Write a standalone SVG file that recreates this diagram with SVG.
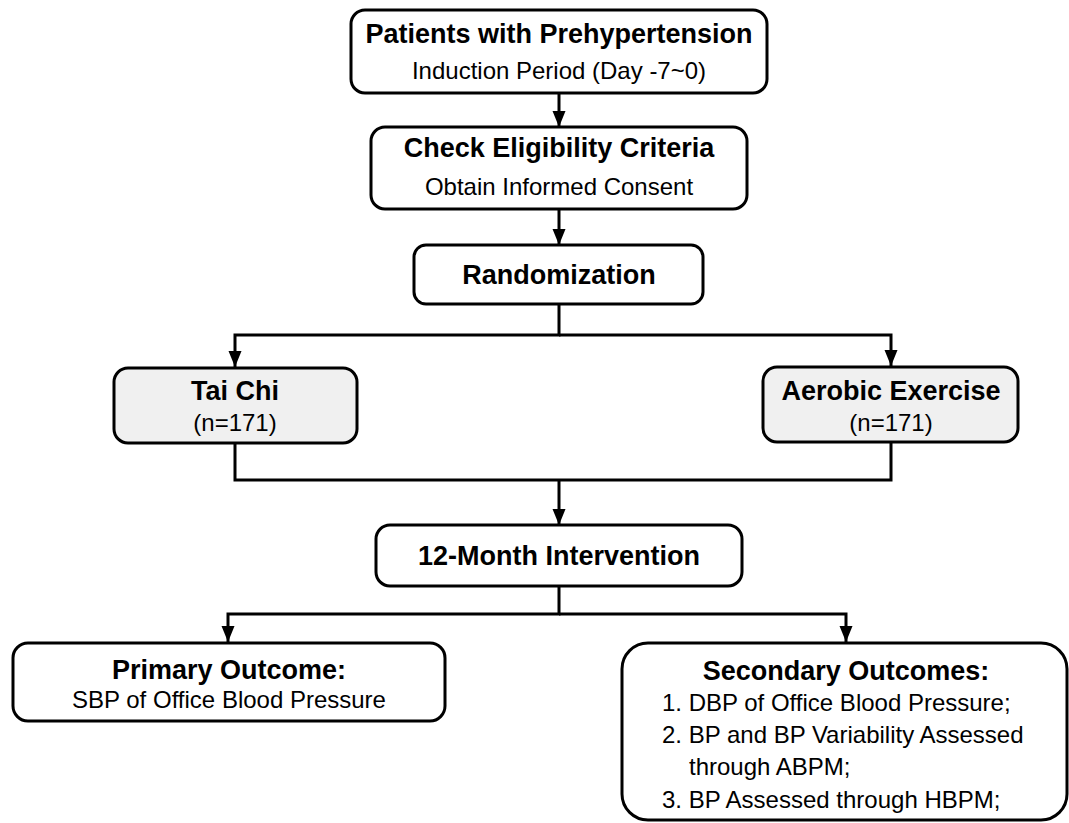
<svg xmlns="http://www.w3.org/2000/svg" width="1069" height="823" viewBox="0 0 1069 823">
<defs>
<marker id="arr" markerUnits="userSpaceOnUse" markerWidth="16" markerHeight="14" viewBox="0 0 16 14" refX="16" refY="6.5" orient="auto">
<path d="M0,0 L16,6.5 L0,13 Z" fill="#000"/>
</marker>
</defs>
<style>
.box{fill:#fff;stroke:#000;stroke-width:3}
.grey{fill:#f0f0f0}
.b{font-family:"Liberation Sans",Arial,sans-serif;font-weight:bold;font-size:27px;fill:#000;text-anchor:middle}
.r{font-family:"Liberation Sans",Arial,sans-serif;font-size:24px;fill:#000;text-anchor:middle}
.l{font-family:"Liberation Sans",Arial,sans-serif;font-size:24px;fill:#000}
.c{fill:none;stroke:#000;stroke-width:3}
</style>
<rect width="1069" height="823" fill="#fff"/>
<g id="connectors">
<path class="c" d="M559,93 V127" marker-end="url(#arr)"/>
<path class="c" d="M559,209 V245" marker-end="url(#arr)"/>
<path class="c" d="M559,304 V335 H235 V367" marker-end="url(#arr)"/>
<path class="c" d="M559,335 H891 V366" marker-end="url(#arr)"/>
<path class="c" d="M235,443 V480 H891 V442"/>
<path class="c" d="M559,480 V525" marker-end="url(#arr)"/>
<path class="c" d="M559,586 V614 H228 V642" marker-end="url(#arr)"/>
<path class="c" d="M559,614 H846 V642" marker-end="url(#arr)"/>
</g>
<g id="n1">
<rect class="box" x="351" y="10" width="416" height="83" rx="14"/>
<text class="b" x="559" y="43">Patients with Prehypertension</text>
<text class="r" x="559" y="79">Induction Period (Day -7~0)</text>
</g>
<g id="n2">
<rect class="box" x="371" y="127" width="376" height="82" rx="14"/>
<text class="b" x="559" y="157">Check Eligibility Criteria</text>
<text class="r" x="559" y="195">Obtain Informed Consent</text>
</g>
<g id="n3">
<rect class="box" x="414" y="245" width="289" height="59" rx="12"/>
<text class="b" x="559" y="284">Randomization</text>
</g>
<g id="n4">
<rect class="box grey" x="114" y="368" width="243" height="75" rx="14"/>
<text class="b" x="235" y="400">Tai Chi</text>
<text class="r" x="235" y="431">(n=171)</text>
</g>
<g id="n5">
<rect class="box grey" x="763" y="367" width="255" height="75" rx="14"/>
<text class="b" x="891" y="400">Aerobic Exercise</text>
<text class="r" x="891" y="431">(n=171)</text>
</g>
<g id="n6">
<rect class="box" x="376" y="525" width="366" height="61" rx="14"/>
<text class="b" x="559" y="565">12-Month Intervention</text>
</g>
<g id="n7">
<rect class="box" x="13" y="643" width="432" height="78" rx="15"/>
<text class="b" x="229" y="679">Primary Outcome:</text>
<text class="r" x="229" y="708">SBP of Office Blood Pressure</text>
</g>
<g id="n8">
<rect class="box" x="622" y="643" width="445" height="177" rx="26"/>
<text class="b" x="846" y="680">Secondary Outcomes:</text>
<text class="l" x="662" y="711">1. DBP of Office Blood Pressure;</text>
<text class="l" x="662" y="743">2. BP and BP Variability Assessed</text>
<text class="l" x="689" y="775">through ABPM;</text>
<text class="l" x="662" y="808">3. BP Assessed through HBPM;</text>
</g>
</svg>
